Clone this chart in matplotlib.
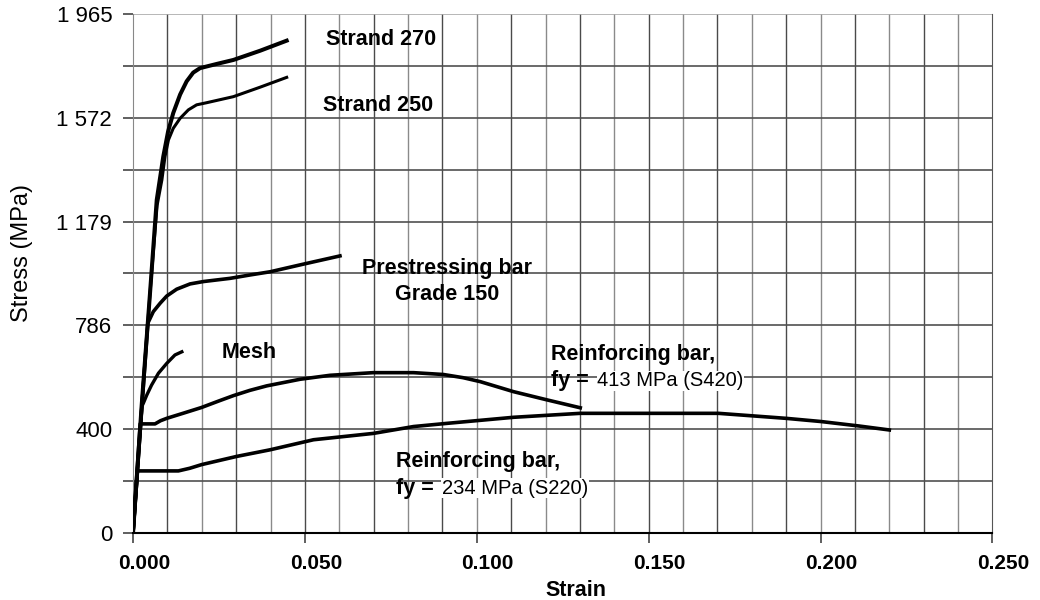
import numpy as np
import matplotlib
matplotlib.use("Agg")
import matplotlib.pyplot as plt
from matplotlib.transforms import ScaledTranslation

plt.rcParams['font.family'] = ['Liberation Sans', 'DejaVu Sans']

# ================== DATA (strain, stress MPa) ==================
strand270_strain = [0.0, 0.0025, 0.0049, 0.0069, 0.0088, 0.0102, 0.0117, 0.0137, 0.0156, 0.0175,
                    0.0195, 0.0244, 0.0292, 0.0370, 0.0447]
strand270_stress = [0, 480, 900, 1261, 1425, 1520, 1590, 1660, 1710, 1743,
                    1760, 1776, 1791, 1826, 1864]

strand250_strain = [0.0, 0.0025, 0.0049, 0.0070, 0.0084, 0.0093, 0.0103, 0.0117, 0.0137, 0.0161,
                    0.0185, 0.0214, 0.0292, 0.0370, 0.0447]
strand250_stress = [0, 480, 900, 1240, 1337, 1425, 1488, 1532, 1570, 1602,
                    1621, 1629, 1652, 1688, 1725]

pbar_strain = [0.0, 0.0043, 0.0059, 0.0079, 0.0098, 0.0127, 0.0166, 0.0205, 0.0282, 0.0341,
               0.0399, 0.0496, 0.0602]
pbar_stress = [0, 794, 838, 870, 897, 923, 943, 952, 964, 977, 989, 1018, 1049]

mesh_strain = [0.0, 0.0026, 0.0030, 0.0040, 0.0054, 0.0074, 0.0098, 0.0122, 0.0142]
mesh_stress = [0, 480, 491, 522, 560, 605, 642, 674, 686]

s420_strain = [0.0, 0.0021, 0.0064, 0.0080, 0.0098, 0.0150, 0.0199, 0.0250, 0.0292, 0.0340,
               0.0389, 0.0486, 0.0573, 0.0699, 0.0816, 0.0903, 0.0960, 0.1010, 0.1107,
               0.1204, 0.1301]
s420_stress = [0, 413, 413, 425, 434, 455, 475, 500, 520, 540,
               557, 582, 597, 607, 607, 600, 588, 573, 535, 504, 474]

s220_strain = [0.0, 0.0013, 0.0132, 0.0165, 0.0200, 0.0302, 0.0399, 0.0525, 0.0699, 0.0816,
               0.0913, 0.1107, 0.1301, 0.1417, 0.1703, 0.1900, 0.2001, 0.2112, 0.2200]
s220_stress = [0, 235, 235, 245, 259, 290, 315, 353, 377, 403,
               415, 438, 453, 453, 453, 434, 422, 405, 390]

ytick_vals = [0, 393, 786, 1179, 1572, 1965]
ytick_labels = ['0', '400', '786', '1 179', '1 572', '1 965']
xtick_vals = [0.0, 0.05, 0.10, 0.15, 0.20, 0.25]
xtick_labels = ['0.000', '0.050', '0.100', '0.150', '0.200', '0.250']

# ================== FIGURE ==================
fig = plt.figure(figsize=(10.4, 6.0), dpi=100)
ax = fig.add_axes([0.1279, 0.1117, 0.8264, 0.865])

ax.set_xlim(0, 0.25)
ax.set_ylim(0, 1965)

# grid: every 0.01 strain, every half label step in stress
for k, xv in enumerate(np.arange(0.01, 0.25, 0.01)):
    ax.axvline(xv, color='#4a4a4a' if k % 2 == 0 else '#8a8a8a', lw=1.0, zorder=1)
half_steps = np.arange(0, 1965 + 1, 196.5)
for yv in half_steps[1:-1]:
    ax.axhline(yv, color='#505050', lw=1.2, zorder=1)
ax.axhline(1965, color='#aaaaaa', lw=1.2, zorder=1)

ax.spines['top'].set_visible(False)
ax.spines['right'].set_color('#555555')
ax.spines['left'].set_color('#888888')
ax.spines['bottom'].set_color('black')
ax.spines['bottom'].set_linewidth(1.5)

# ticks
ax.set_yticks(half_steps)
ylabels_all = []
for i in range(len(half_steps)):
    ylabels_all.append(ytick_labels[i // 2] if i % 2 == 0 else '')
ax.set_yticklabels(ylabels_all)
ax.tick_params(axis='y', length=7, width=1.2, color='#444444', pad=8,
               labelsize=16)
ax.set_xticks(xtick_vals)
ax.set_xticklabels(xtick_labels, fontweight='bold')
ax.tick_params(axis='x', length=7, width=1.2, color='#444444', pad=8,
               labelsize=15)
for lbl in ax.get_xticklabels():
    lbl.set_transform(lbl.get_transform() + ScaledTranslation(0.11, 0, fig.dpi_scale_trans))

# curves
ax.plot(s220_strain, s220_stress, color='black', lw=2.6, zorder=3)
ax.plot(s420_strain, s420_stress, color='black', lw=2.6, zorder=3)
ax.plot(mesh_strain, mesh_stress, color='black', lw=2.4, zorder=3)
ax.plot(pbar_strain, pbar_stress, color='black', lw=2.6, zorder=3)
ax.plot(strand250_strain, strand250_stress, color='black', lw=2.2, zorder=3)
ax.plot(strand270_strain, strand270_stress, color='black', lw=2.9, zorder=3)

# labels on curves
lab = dict(fontsize=15.5, fontweight='bold', color='black', zorder=5)
ax.text(0.0562, 1870, 'Strand 270', ha='left', va='center', **lab)
ax.text(0.0553, 1617, 'Strand 250', ha='left', va='center', **lab)
ax.text(0.0914, 952, 'Prestressing bar\nGrade 150', ha='center', va='center',
        multialignment='center', linespacing=1.3, **lab)
ax.text(0.0259, 682, 'Mesh', ha='left', va='center', **lab)

box = dict(facecolor='white', edgecolor='none', pad=0.5)
ax.text(0.1217, 674, 'Reinforcing bar,', ha='left', va='center', **lab)
ax.text(0.1217, 576, 'fy =', ha='left', va='center', **lab)
ax.text(0.1350, 576, '413 MPa (S420)', ha='left', va='center', fontsize=14.5,
        bbox=box, zorder=4)

ax.text(0.0765, 269, 'Reinforcing bar,', ha='left', va='center', **lab)
ax.text(0.0765, 170, 'fy =', ha='left', va='center', **lab)
ax.text(0.0899, 170, '234 MPa (S220)', ha='left', va='center', fontsize=14.5,
        bbox=box, zorder=4)

fig.text(22 / 1040, 1 - 253 / 600, 'Stress (MPa)', rotation=90, ha='center', va='center',
         fontsize=17)
fig.text(576 / 1040, 1 - 590 / 600, 'Strain', ha='center', va='center',
         fontsize=15.5, fontweight='bold')

fig.savefig('out.png', dpi=100)
